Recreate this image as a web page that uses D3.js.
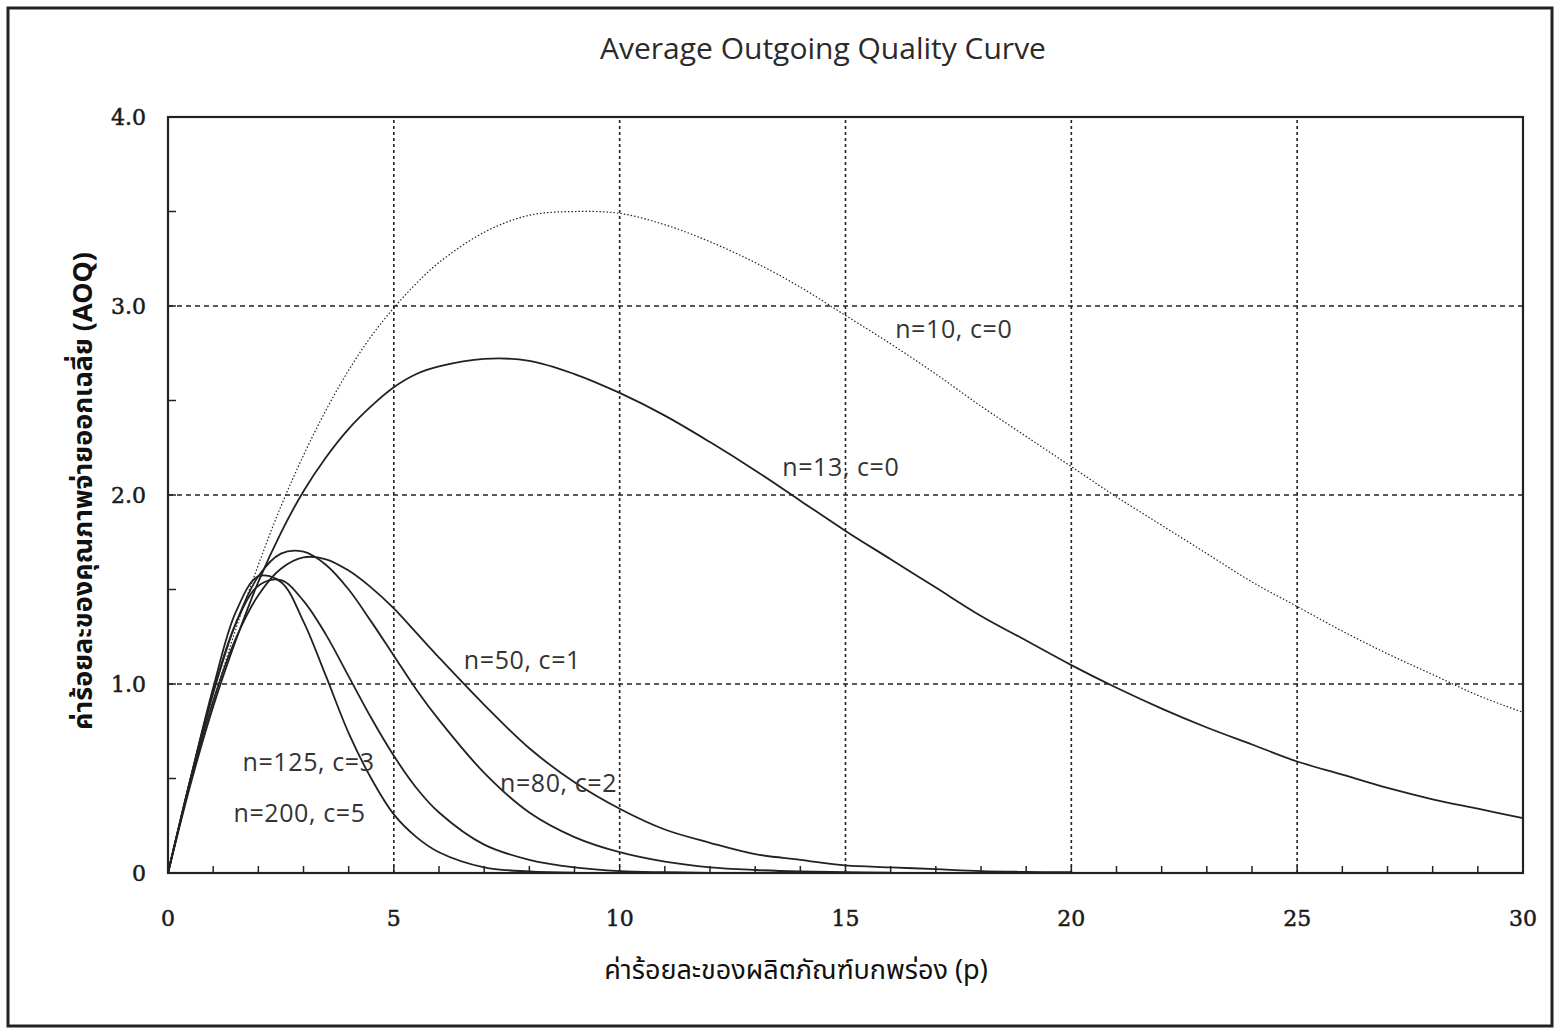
<!DOCTYPE html>
<html>
<head>
<meta charset="utf-8">
<script src="https://cdn.jsdelivr.net/npm/d3@7"></script>
<style>
  body { margin: 0; background: #fff; }
  svg { display: block; }
  .tick-label { font-family: "DejaVu Serif", "Liberation Serif", serif; font-size: 22px; fill: #1a1a1a; stroke: #1a1a1a; stroke-width: 0.5px; }
  .curve-label { font-family: "Open Sans", "DejaVu Sans", sans-serif; font-size: 25px; fill: #333; letter-spacing: 0.6px; }
  .title { font-family: "Open Sans", "DejaVu Sans", sans-serif; font-size: 30px; fill: #2a2a2a; }
  .axis-title { font-family: "Noto Sans", "Noto Sans Thai", "Loma", "DejaVu Sans", sans-serif; font-size: 27px; fill: #111; }
</style>
</head>
<body>
<svg id="chart"></svg>
<script>
// percent defective p, read at these points
var pSteps = [0, 0.5, 1, 1.5, 2, 2.5, 3, 3.5, 4, 4.5, 5, 5.5, 6, 7, 8, 9, 10, 11, 12, 13, 14, 15, 16, 17, 18, 19, 20,
              21, 22, 23, 24, 25, 26, 27, 28, 29, 30]

// AOQ (%), one array per sampling plan
var aoq_n10_c0 = [0, 0.48, 0.90, 1.29, 1.63, 1.94, 2.21, 2.45, 2.66, 2.84, 2.99, 3.12, 3.23, 3.39, 3.48, 3.50, 3.49,
                  3.43, 3.34, 3.23, 3.10, 2.95, 2.80, 2.64, 2.47, 2.31, 2.15, 1.99, 1.84, 1.69, 1.54, 1.41, 1.28,
                  1.16, 1.05, 0.94, 0.85]
var aoq_n13_c0 = [0, 0.47, 0.88, 1.23, 1.54, 1.80, 2.02, 2.20, 2.35, 2.47, 2.57, 2.64, 2.68, 2.72, 2.71, 2.64, 2.54,
                  2.42, 2.28, 2.13, 1.97, 1.81, 1.66, 1.51, 1.36, 1.23, 1.10, 0.98, 0.87, 0.77, 0.68, 0.59, 0.52,
                  0.45, 0.39, 0.34, 0.29]
var aoq_n50_c1 = [0, 0.49, 0.91, 1.24, 1.47, 1.61, 1.67, 1.66, 1.60, 1.51, 1.40, 1.27, 1.14, 0.89, 0.66, 0.48, 0.34,
                  0.23, 0.16, 0.10, 0.07, 0.04, 0.03, 0.02, 0.01, 0.006, 0.004]
var aoq_n80_c2 = [0, 0.50, 0.95, 1.32, 1.57, 1.69, 1.70, 1.63, 1.50, 1.33, 1.15, 0.97, 0.81, 0.53, 0.32, 0.19, 0.11,
                  0.06, 0.03, 0.016, 0.008, 0.004, 0.002]
var aoq_n125_c3 = [0, 0.50, 0.96, 1.32, 1.52, 1.55, 1.44, 1.26, 1.04, 0.82, 0.62, 0.45, 0.32, 0.15, 0.07, 0.03, 0.01,
                   0.004, 0.001]
var aoq_n200_c5 = [0, 0.50, 0.98, 1.38, 1.57, 1.54, 1.33, 1.04, 0.74, 0.50, 0.31, 0.19, 0.11, 0.03, 0.008, 0.002]

var planNames = ['n=10, c=0', 'n=13, c=0', 'n=50, c=1', 'n=80, c=2', 'n=125, c=3', 'n=200, c=5']
var planValues = [aoq_n10_c0, aoq_n13_c0, aoq_n50_c1, aoq_n80_c2, aoq_n125_c3, aoq_n200_c5]

// where each label sits, in data units (p, AOQ)
var labelP = [16.1, 13.6, 6.55, 7.35, 1.65, 1.45]
var labelAoq = [2.83, 2.10, 1.08, 0.43, 0.54, 0.27]

var xTicks = [0, 5, 10, 15, 20, 25, 30]
var yTicks = [0, 1, 2, 3, 4]
var yTickText = ['0', '1.0', '2.0', '3.0', '4.0']

var title = 'Average Outgoing Quality Curve'
var xTitle = 'ค่าร้อยละของผลิตภัณฑ์บกพร่อง (p)'
var yTitle = 'ค่าร้อยละของคุณภาพจ่ายออกเฉลี่ย (AOQ)'

var W = 1555, H = 1029
var m = {left: 168, right: 32, top: 117, bottom: 156}

var svg = d3.select('#chart').attr('width', W).attr('height', H)

// page frame
svg.append('rect')
  .attr('x', 8).attr('y', 8).attr('width', W - 3 - 8).attr('height', H - 3 - 8)
  .attr('fill', 'none').attr('stroke', '#222').attr('stroke-width', 3)

var x = d3.scaleLinear().domain([0, 30]).range([m.left, W - m.right])
var y = d3.scaleLinear().domain([0, 4]).range([H - m.bottom, m.top])

var g = svg.append('g')

// grid
g.selectAll('.hgrid').data(yTicks.filter(d => d > 0 && d < 4)).join('line')
  .attr('x1', x(0)).attr('x2', x(30)).attr('y1', y).attr('y2', y)
  .attr('stroke', '#222').attr('stroke-width', 1.4).attr('stroke-dasharray', '5,4')

g.selectAll('.vgrid').data(xTicks.filter(d => d > 0 && d < 30)).join('line')
  .attr('y1', y(0)).attr('y2', y(4)).attr('x1', x).attr('x2', x)
  .attr('stroke', '#222').attr('stroke-width', 1.6).attr('stroke-dasharray', '3,3')

// minor ticks, pointing inward
g.selectAll('.xminor').data(d3.range(1, 30)).join('line')
  .attr('x1', x).attr('x2', x).attr('y1', y(0)).attr('y2', y(0) - 7)
  .attr('stroke', '#222').attr('stroke-width', 1.5)

g.selectAll('.yminor').data(d3.range(0.5, 4, 0.5)).join('line')
  .attr('x1', x(0)).attr('x2', x(0) + 8).attr('y1', y).attr('y2', y)
  .attr('stroke', '#222').attr('stroke-width', 1.5)

// curves
var line = d3.line()
  .x((d, i) => x(pSteps[i]))
  .y(d => y(d))
  .curve(d3.curveCatmullRom.alpha(0.5))

planValues.forEach(function(vals, i){
  g.append('path')
    .attr('d', line(vals))
    .attr('fill', 'none')
    .attr('stroke', '#222')
    .attr('stroke-width', i == 0 ? 1.2 : 1.8)
    .attr('stroke-dasharray', i == 0 ? '1.5,2' : null)
})

// plot border
g.append('rect')
  .attr('x', x(0)).attr('y', y(4)).attr('width', x(30) - x(0)).attr('height', y(0) - y(4))
  .attr('fill', 'none').attr('stroke', '#222').attr('stroke-width', 2.2)

// tick labels
g.selectAll('.xl').data(xTicks).join('text')
  .attr('class', 'tick-label')
  .attr('x', x).attr('y', y(0) + 53)
  .attr('text-anchor', 'middle')
  .text(d => d)

g.selectAll('.yl').data(yTicks).join('text')
  .attr('class', 'tick-label')
  .attr('x', x(0) - 22).attr('y', y).attr('dy', '0.35em')
  .attr('text-anchor', 'end')
  .text((d, i) => yTickText[i])

// curve labels
g.selectAll('.cl').data(planNames).join('text')
  .attr('class', 'curve-label')
  .attr('x', (d, i) => x(labelP[i]))
  .attr('y', (d, i) => y(labelAoq[i]))
  .text(d => d)

// titles
svg.append('text').attr('class', 'title')
  .attr('x', 823).attr('y', 59)
  .attr('text-anchor', 'middle').text(title)

svg.append('text').attr('class', 'axis-title')
  .attr('x', 796).attr('y', 979)
  .attr('text-anchor', 'middle').text(xTitle)

svg.append('text').attr('class', 'axis-title')
  .attr('font-weight', 'bold')
  .attr('transform', 'translate(92,' + (y(2) - 4) + ') rotate(-90)')
  .attr('text-anchor', 'middle').text(yTitle)
</script>
</body>
</html>
